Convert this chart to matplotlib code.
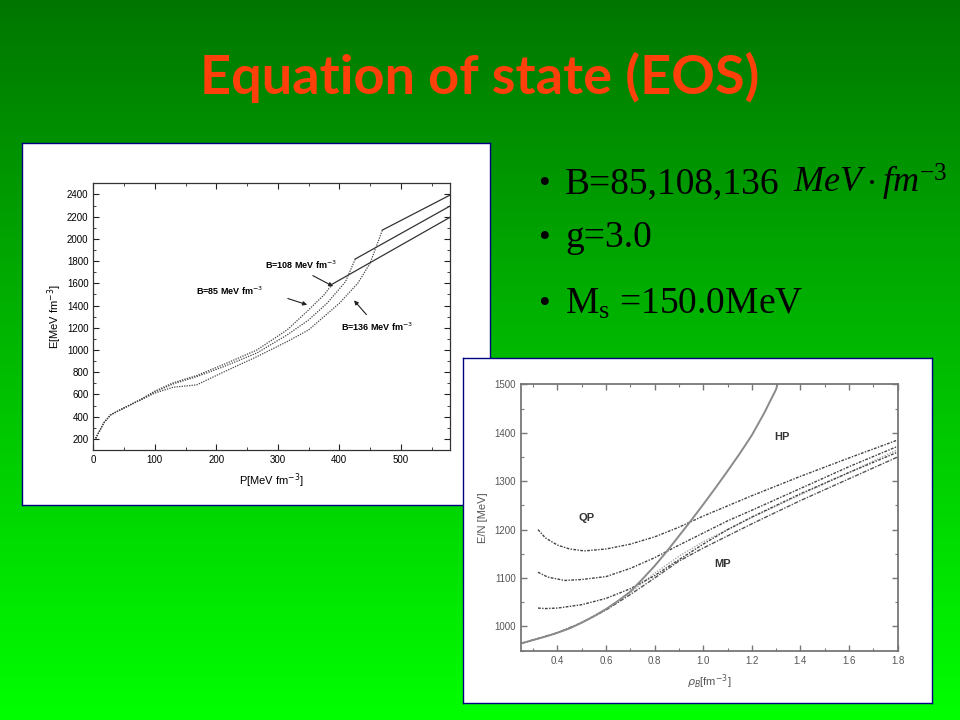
import numpy as np
import matplotlib.pyplot as plt
from matplotlib.ticker import MultipleLocator

plt.rcParams['font.family'] = ['Liberation Sans', 'DejaVu Sans']
plt.rcParams['mathtext.fontset'] = 'custom'
plt.rcParams['mathtext.rm'] = 'Liberation Serif'
plt.rcParams['mathtext.it'] = 'Liberation Serif:italic'

# left chart: E vs P for three bag constants (dotted = hadronic/mixed, solid = quark)
p_b85 = [4, 10, 17, 28, 49, 76, 100, 130, 168, 212, 266, 315, 350, 375, 389]
e_b85 = [205, 270, 344, 416, 476, 551, 630, 705, 770, 870, 1000, 1180, 1360, 1495, 1594]
p_b108 = [4, 10, 17, 28, 49, 76, 100, 130, 168, 212, 266, 315, 350, 380, 410, 426]
e_b108 = [205, 270, 344, 416, 476, 551, 622, 695, 760, 850, 973, 1135, 1270, 1420, 1614, 1819]
p_b136 = [4, 10, 17, 28, 49, 76, 100, 130, 168, 212, 266, 315, 350, 400, 430, 450, 470]
e_b136 = [205, 270, 344, 416, 476, 548, 612, 665, 686, 802, 940, 1075, 1180, 1420, 1600, 1780, 2079]
p_q85, e_q85 = [389, 580], [1594, 2194]
p_q108, e_q108 = [426, 580], [1819, 2295]
p_q136, e_q136 = [470, 580], [2079, 2394]

# right chart: E/N vs rho_B
rho_h = [0.25, 0.3, 0.35, 0.4, 0.45, 0.5, 0.55, 0.6, 0.65, 0.7, 0.75, 0.8, 0.85,
         0.9, 0.95, 1.0, 1.05, 1.1, 1.15, 1.2, 1.25, 1.3, 1.305]
en_h = [965, 972, 979, 987, 996, 1008, 1021, 1036, 1053, 1072, 1098, 1125, 1155,
        1187, 1219, 1252, 1286, 1321, 1357, 1395, 1440, 1490, 1500]
rho_qp1 = [0.32, 0.35, 0.4, 0.45, 0.51, 0.6, 0.7, 0.8, 0.9, 1.0, 1.2, 1.4, 1.6, 1.8]
en_qp1 = [1200, 1183, 1168, 1160, 1156, 1160, 1170, 1185, 1205, 1228, 1270, 1310, 1348, 1385]
rho_qp2 = [0.32, 0.36, 0.43, 0.5, 0.6, 0.7, 0.8, 0.9, 1.0, 1.1, 1.2, 1.4, 1.6, 1.8]
en_qp2 = [1112, 1102, 1095, 1097, 1103, 1120, 1142, 1168, 1193, 1218, 1240, 1285, 1330, 1372]
rho_qp3 = [0.32, 0.35, 0.4, 0.5, 0.6, 0.7, 0.8, 0.9, 1.0, 1.1, 1.2, 1.4, 1.6, 1.8]
en_qp3 = [1038, 1037, 1038, 1045, 1058, 1078, 1105, 1138, 1170, 1200, 1226, 1274, 1318, 1360]
rho_mp = [0.25, 0.4, 0.5, 0.6, 0.7, 0.8, 0.9, 1.0, 1.1, 1.2, 1.4, 1.6, 1.8]
en_mp1 = [965, 987, 1008, 1036, 1070, 1110, 1145, 1175, 1200, 1225, 1272, 1318, 1365]
en_mp2 = [965, 987, 1008, 1034, 1066, 1100, 1135, 1162, 1187, 1212, 1260, 1305, 1350]

fig = plt.figure(figsize=(9.6, 7.2), dpi=100)

# green gradient background
bg = fig.add_axes([0, 0, 1, 1], zorder=0)
g = np.linspace(118 / 255, 1.0, 256)
img = np.zeros((256, 1, 3))
img[:, 0, 1] = g
bg.imshow(img, aspect='auto', extent=[0, 1, 0, 1], origin='upper')
bg.set_axis_off()

fig.text(0.5, 0.892, 'Equation of state (EOS)', ha='center', va='center',
         color='#ff400a', fontsize=39, fontweight='bold', family='Lato')

# bullets
serif = 'Liberation Serif'
for yb in [0.732, 0.6574, 0.5648]:
    fig.text(538 / 960, yb, '•', family=serif, fontsize=24, va='baseline')
fig.text(565 / 960, 0.732, 'B=85,108,136', family=serif, fontsize=27, va='baseline')
fig.text(793 / 960, 0.732, r'$MeV\cdot fm^{-3}$', fontsize=26, va='baseline')
fig.text(565 / 960, 0.6574, 'g=3.0', family=serif, fontsize=27, va='baseline')
fig.text(565 / 960, 0.5648, r'M$_\mathrm{s}$ =150.0MeV', family=serif, fontsize=27, va='baseline')


def white_box(rect, z):
    a = fig.add_axes(rect, zorder=z)
    a.set_xticks([])
    a.set_yticks([])
    a.set_facecolor('white')
    for s in a.spines.values():
        s.set_color('#000080')
        s.set_linewidth(1.0)
    return a


white_box([22 / 960, 1 - 505 / 720, 468 / 960, 362 / 720], 1)
ax1 = fig.add_axes([93.3 / 960, 1 - 450 / 720, 356.7 / 960, 266.7 / 720], zorder=2)
white_box([463 / 960, 1 - 703 / 720, 469 / 960, 345 / 720], 3)
ax2 = fig.add_axes([521 / 960, 1 - 650.7 / 720, 376.7 / 960, 266.4 / 720], zorder=4)

# ---- left chart
for p, e in [(p_b85, e_b85), (p_b108, e_b108), (p_b136, e_b136)]:
    ax1.plot(p, e, color='#444444', lw=0.9, ls=(0, (1, 1)))
for p, e in [(p_q85, e_q85), (p_q108, e_q108), (p_q136, e_q136)]:
    ax1.plot(p, e, color='#333333', lw=0.9)
ax1.set_xlim(0, 580)
ax1.set_ylim(100, 2500)
ax1.xaxis.set_major_locator(MultipleLocator(100))
ax1.xaxis.set_minor_locator(MultipleLocator(50))
ax1.yaxis.set_major_locator(MultipleLocator(200))
ax1.yaxis.set_minor_locator(MultipleLocator(100))
ax1.tick_params(which='both', direction='in', top=True, right=True, labelsize=7, color='#222222')
ax1.tick_params(which='major', length=4, width=0.8)
ax1.tick_params(which='minor', length=2, width=0.6)
for s in ax1.spines.values():
    s.set_color('#333333')
    s.set_linewidth(0.9)
ax1.set_xlabel('P[MeV fm$^{-3}$]', fontsize=8, labelpad=5, math_fontfamily='dejavusans')
ax1.set_ylabel('E[MeV fm$^{-3}$]', fontsize=8, labelpad=2, math_fontfamily='dejavusans')

lab = dict(fontsize=6.5, fontweight='bold', va='center', math_fontfamily='dejavusans')
ax1.text(280, 1765, 'B=108 MeV fm$^{-3}$', **lab)
ax1.text(167, 1531, 'B=85 MeV fm$^{-3}$', **lab)
ax1.text(402, 1210, 'B=136 MeV fm$^{-3}$', **lab)
arr = dict(arrowstyle='-|>', color='#222222', lw=0.8, mutation_scale=6)
ax1.annotate('', xy=(352, 1399), xytext=(312, 1471), arrowprops=arr)
ax1.annotate('', xy=(394, 1561), xytext=(353, 1681), arrowprops=arr)
ax1.annotate('', xy=(421, 1465), xytext=(447, 1300), arrowprops=arr)

# ---- right chart
ax2.plot(rho_mp, en_mp1, color='#aaaaaa', lw=1.0, ls=(0, (1, 1)))
ax2.plot(rho_mp, en_mp2, color='#555555', lw=1.0, ls=(0, (3, 1, 1, 1)))
for r, e in [(rho_qp1, en_qp1), (rho_qp2, en_qp2), (rho_qp3, en_qp3)]:
    ax2.plot(r, e, color='#444444', lw=1.0, ls=(0, (2, 1, 1, 1)))
ax2.plot(rho_h, en_h, color='#8a8a8a', lw=1.4)
ax2.set_xlim(0.25, 1.8)
ax2.set_ylim(950, 1500)
ax2.xaxis.set_major_locator(MultipleLocator(0.2))
ax2.xaxis.set_minor_locator(MultipleLocator(0.1))
ax2.yaxis.set_major_locator(MultipleLocator(100))
ax2.yaxis.set_minor_locator(MultipleLocator(50))
ax2.tick_params(which='both', direction='in', top=True, right=True, labelsize=7,
                color='#777777', labelcolor='#555555')
ax2.tick_params(which='major', length=4, width=1.0)
ax2.tick_params(which='minor', length=2, width=0.8)
for s in ax2.spines.values():
    s.set_color('#777777')
    s.set_linewidth(1.3)
ax2.set_xlabel(r'$\rho_B$[fm$^{-3}$]', fontsize=8, color='#555555', labelpad=5,
               math_fontfamily='dejavusans')
ax2.set_ylabel('E/N [MeV]', fontsize=8, color='#555555', labelpad=5)
ax2.text(1.324, 1392, 'HP', fontsize=8, fontweight='bold', color='#333333', ha='center', va='center')
ax2.text(0.52, 1225, 'QP', fontsize=8, fontweight='bold', color='#333333', ha='center', va='center')
ax2.text(1.078, 1128, 'MP', fontsize=8, fontweight='bold', color='#333333', ha='center', va='center')

fig.savefig('out.png', dpi=100)
